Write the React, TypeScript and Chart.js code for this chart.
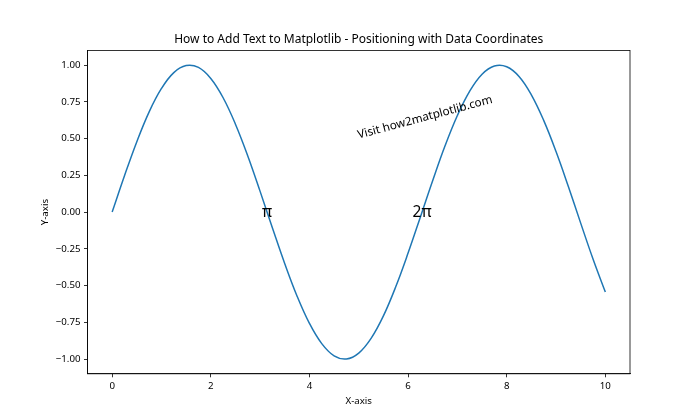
import React, { useEffect, useRef } from "react";
import { Chart, registerables } from "chart.js";

Chart.register(...registerables);

// Data (y-values at x steps of 0.25)
const xValues = [
  0, 0.25, 0.5, 0.75, 1, 1.25, 1.5, 1.75, 2, 2.25, 2.5, 2.75, 3, 3.25, 3.5, 3.75, 4, 4.25, 4.5, 4.75,
  5, 5.25, 5.5, 5.75, 6, 6.25, 6.5, 6.75, 7, 7.25, 7.5, 7.75, 8, 8.25, 8.5, 8.75, 9, 9.25, 9.5, 9.75, 10,
];
const yValues = [
  0, 0.247, 0.479, 0.682, 0.841, 0.949, 0.997, 0.984, 0.909, 0.778, 0.598, 0.382, 0.141, -0.108, -0.351,
  -0.572, -0.757, -0.895, -0.978, -0.999, -0.959, -0.859, -0.706, -0.508, -0.279, -0.033, 0.215, 0.451,
  0.657, 0.823, 0.938, 0.994, 0.989, 0.923, 0.798, 0.624, 0.412, 0.174, -0.075, -0.319, -0.544,
];
const xTicks = [0, 2, 4, 6, 8, 10];
const yTicks = [-1, -0.75, -0.5, -0.25, 0, 0.25, 0.5, 0.75, 1];

const titleText = "How to Add Text to Matplotlib - Positioning with Data Coordinates";
const piLabels = [
  { x: 3.14159, y: 0, text: "π" },
  { x: 6.28319, y: 0, text: "2π" },
];
const watermark = { x: 5, y: 0.5, text: "Visit how2matplotlib.com", angle: 15 };

const FONT = "'Noto Sans', 'DejaVu Sans', sans-serif";

const fmt = (v: number) => (v < 0 ? "\u2212" + Math.abs(v).toFixed(2) : v.toFixed(2));

export default function App() {
  const ref = useRef<HTMLCanvasElement | null>(null);

  useEffect(() => {
    if (!ref.current) return;
    const annot = {
      id: "annot",
      afterDatasetsDraw(chart: any) {
        const { ctx, scales } = chart;
        const xs = scales.x;
        const ys = scales.y;
        ctx.save();
        ctx.fillStyle = "#000";
        ctx.font = `15.5px ${FONT}`;
        ctx.textAlign = "center";
        ctx.textBaseline = "middle";
        for (const p of piLabels) {
          ctx.fillText(p.text, xs.getPixelForValue(p.x), ys.getPixelForValue(p.y));
        }
        ctx.font = `11.7px ${FONT}`;
        ctx.textAlign = "left";
        ctx.textBaseline = "alphabetic";
        ctx.translate(xs.getPixelForValue(watermark.x), ys.getPixelForValue(watermark.y));
        ctx.rotate((-watermark.angle * Math.PI) / 180);
        ctx.fillText(watermark.text, 0, 0);
        ctx.restore();
      },
      afterDraw(chart: any) {
        const { ctx, chartArea: a } = chart;
        ctx.save();
        ctx.strokeStyle = "#000";
        ctx.lineWidth = 0.8;
        ctx.strokeRect(a.left, a.top, a.right - a.left, a.bottom - a.top);
        ctx.fillStyle = "#000";
        ctx.font = `12px ${FONT}`;
        ctx.textAlign = "center";
        ctx.textBaseline = "middle";
        ctx.fillText(titleText, (a.left + a.right) / 2, 40);
        ctx.restore();
      },
    };

    const chart = new Chart(ref.current, {
      type: "line",
      data: {
        datasets: [
          {
            data: xValues.map((x, i) => ({ x, y: yValues[i] })),
            borderColor: "#1f77b4",
            borderWidth: 1.5,
            pointRadius: 0,
            tension: 0.4,
            fill: false,
          },
        ],
      },
      options: {
        responsive: false,
        animation: false,
        layout: { padding: { left: 0, right: 70, top: 50.4, bottom: 0 } },
        plugins: {
          legend: { display: false },
          tooltip: { enabled: false },
          title: { display: false },
        },
        scales: {
          x: {
            type: "linear",
            min: -0.5,
            max: 10.5,
            afterBuildTicks: (s: any) => {
              s.ticks = xTicks.map((v) => ({ value: v }));
            },
            afterFit: (s: any) => {
              s.height = 46.2;
            },
            ticks: {
              color: "#000",
              font: { family: FONT, size: 9.7 },
              padding: 3.5,
              maxRotation: 0,
              callback: (v: any) => String(v),
            },
            grid: { drawOnChartArea: false, drawTicks: true, tickLength: 3.5, tickColor: "#000", tickWidth: 0.8 },
            border: { display: true, color: "#000", width: 0.8 },
            title: {
              display: true,
              text: "X-axis",
              color: "#000",
              font: { family: FONT, size: 9.7, lineHeight: 1.2 },
              padding: { top: 0, bottom: 13.2 },
            },
          },
          y: {
            type: "linear",
            min: -1.1,
            max: 1.1,
            afterBuildTicks: (s: any) => {
              s.ticks = yTicks.map((v) => ({ value: v }));
            },
            afterFit: (s: any) => {
              s.width = 87.5;
            },
            ticks: {
              color: "#000",
              font: { family: FONT, size: 9.7 },
              padding: 3.5,
              callback: (v: any) => fmt(Number(v)),
            },
            grid: { drawOnChartArea: false, drawTicks: true, tickLength: 3.5, tickColor: "#000", tickWidth: 0.8 },
            border: { display: true, color: "#000", width: 0.8 },
            title: {
              display: true,
              text: "Y-axis",
              color: "#000",
              font: { family: FONT, size: 9.7, lineHeight: 1.2 },
              padding: { top: 39, bottom: 0 },
            },
          },
        },
      },
      plugins: [annot],
    } as any);
    return () => chart.destroy();
  }, []);

  return (
    <div style={{ position: "fixed", left: 0, top: 0, width: 700, height: 420, background: "#fff" }}>
      <canvas ref={ref} width={700} height={420} style={{ display: "block" }} />
    </div>
  );
}
